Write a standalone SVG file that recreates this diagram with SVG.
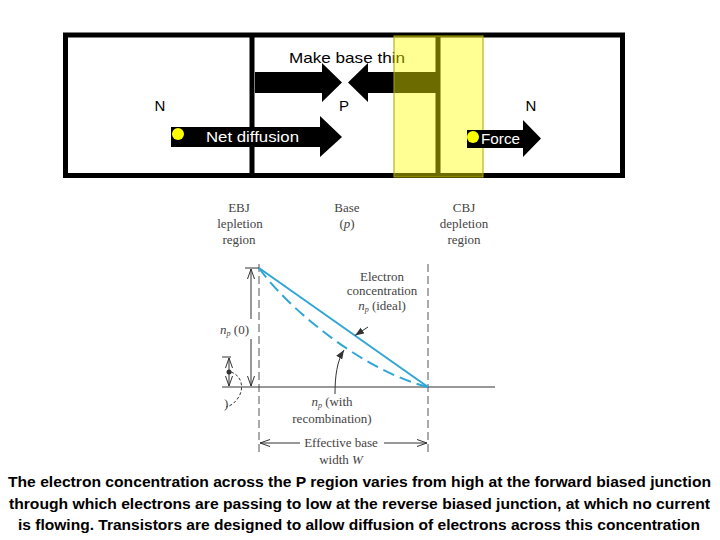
<svg xmlns="http://www.w3.org/2000/svg" width="720" height="540" viewBox="0 0 720 540">
<style>
.lbl{font-family:"Liberation Sans",Arial,sans-serif;font-size:15px;fill:#000}
.wlbl{font-family:"Liberation Sans",Arial,sans-serif;font-size:14px;fill:#fff}
.cap{font-family:"Liberation Sans",Arial,sans-serif;font-size:15px;font-weight:bold;fill:#000}
.g{font-family:"Liberation Serif","Times New Roman",serif;font-size:13px;fill:#444}
.thin{stroke:#333;stroke-width:1;fill:none}
.dash{stroke:#555;stroke-width:1;stroke-dasharray:8,4;fill:none}
.blue{stroke:#2fa6d6;stroke-width:2;fill:none}
</style>
<defs>
<marker id="ah" markerUnits="userSpaceOnUse" markerWidth="12" markerHeight="8" refX="10" refY="4" orient="auto-start-reverse">
<path d="M0,0.5 L10,4 L0,7.5" fill="none" stroke="#333" stroke-width="1"/>
</marker>
<marker id="af" markerUnits="userSpaceOnUse" markerWidth="10" markerHeight="8" refX="9" refY="4" orient="auto">
<path d="M0,0.5 L9,4 L0,7.5 Z" fill="#333"/>
</marker>
</defs>
<rect width="720" height="540" fill="#fff"/>

<g id="device">
<rect x="65.5" y="35" width="557" height="140.5" fill="#fff" stroke="#000" stroke-width="5"/>
<line x1="252" y1="37" x2="252" y2="173" stroke="#000" stroke-width="5"/>
<line x1="438" y1="37" x2="438" y2="173" stroke="#000" stroke-width="5"/>
</g>

<g id="make-base-thin">
<polygon points="255,72 322,72 322,63 342,82.5 322,102 322,93 255,93" fill="#000"/>
<polygon points="437,72 368,72 368,63 348,82.5 368,102 368,93 437,93" fill="#000"/>
<text class="lbl" x="289" y="63" textLength="116" lengthAdjust="spacingAndGlyphs">Make base thin</text>
</g>

<g id="regions">
<text class="lbl" x="160" y="111" text-anchor="middle">N</text>
<text class="lbl" x="344" y="111" text-anchor="middle">P</text>
<text class="lbl" x="531" y="111" text-anchor="middle">N</text>
</g>

<g id="net-diffusion">
<polygon points="171,127 320,127 320,116 342,137 320,157 320,147 171,147" fill="#000"/>
<circle cx="178" cy="134" r="6" fill="#ffff00"/>
<text class="wlbl" x="206" y="142" textLength="93" lengthAdjust="spacingAndGlyphs">Net diffusion</text>
</g>

<g id="depletion-highlight">
<rect x="394" y="36" width="89" height="141" fill="#ffff00" fill-opacity="0.42" stroke="#a6a600" stroke-width="1"/>
</g>

<g id="force">
<polygon points="467,130 523,130 523,120 541,138.5 523,157 523,148 467,148" fill="#000"/>
<circle cx="473" cy="137" r="6" fill="#ffff00"/>
<text class="wlbl" x="481" y="144" textLength="39" lengthAdjust="spacingAndGlyphs">Force</text>
</g>

<g id="graph-labels">
<text class="g" x="239" y="212" text-anchor="middle">EBJ</text>
<text class="g" x="240" y="228" text-anchor="middle">lepletion</text>
<text class="g" x="239" y="244" text-anchor="middle">region</text>
<text class="g" x="347" y="212" text-anchor="middle">Base</text>
<text class="g" x="347" y="228" text-anchor="middle">(<tspan font-style="italic">p</tspan>)</text>
<text class="g" x="464" y="212" text-anchor="middle">CBJ</text>
<text class="g" x="464" y="228" text-anchor="middle">depletion</text>
<text class="g" x="464" y="244" text-anchor="middle">region</text>
</g>

<g id="axes">
<line class="dash" x1="259" y1="264" x2="259" y2="453"/>
<line class="dash" x1="428" y1="264" x2="428" y2="453"/>
<line class="thin" x1="222" y1="387" x2="495" y2="387"/>
</g>

<g id="curves">
<line class="blue" x1="259" y1="268" x2="428" y2="387"/>
<path class="blue" d="M259,268 C285,305 360,370 428,387" stroke-dasharray="12,6"/>
</g>

<g id="connectors">
<line class="thin" x1="245" y1="268" x2="259" y2="268"/>
<line class="thin" x1="251" y1="319" x2="251" y2="269" marker-end="url(#ah)"/>
<line class="thin" x1="251" y1="339" x2="251" y2="386" marker-end="url(#ah)"/>
<line class="thin" x1="222" y1="357" x2="231" y2="357"/>
<line class="thin" x1="229" y1="372" x2="229" y2="358" marker-end="url(#ah)"/>
<line class="thin" x1="229" y1="372" x2="229" y2="386" marker-end="url(#ah)"/>
<circle cx="229" cy="372" r="2.5" fill="#333"/>
<path class="thin" d="M231,372 C243,376 244,390 238,398 C234,404 230,406 226,407" stroke-dasharray="3,2"/>
<line class="thin" x1="368" y1="327" x2="355" y2="335.5" marker-end="url(#af)"/>
<path class="thin" d="M335,394 C335,376 337,361 344,350" marker-end="url(#af)"/>
<line class="thin" x1="300" y1="443" x2="260" y2="443" marker-end="url(#ah)"/>
<line class="thin" x1="384" y1="443" x2="427" y2="443" marker-end="url(#ah)"/>
</g>

<g id="graph-annotations">
<text class="g" x="249" y="334" text-anchor="end"><tspan font-style="italic">n</tspan><tspan font-size="8" dy="2" font-style="italic">p</tspan><tspan dy="-2"> (0)</tspan></text>
<text class="g" x="224" y="408" font-size="10">)</text>
<text class="g" x="382" y="281" text-anchor="middle">Electron</text>
<text class="g" x="382" y="295" text-anchor="middle">concentration</text>
<text class="g" x="382" y="310" text-anchor="middle"><tspan font-style="italic">n</tspan><tspan font-size="8" dy="2" font-style="italic">p</tspan><tspan dy="-2"> (ideal)</tspan></text>
<text class="g" x="332" y="406" text-anchor="middle"><tspan font-style="italic">n</tspan><tspan font-size="8" dy="2" font-style="italic">p</tspan><tspan dy="-2"> (with</tspan></text>
<text class="g" x="332" y="423" text-anchor="middle">recombination)</text>
<text class="g" x="341" y="447" text-anchor="middle">Effective base</text>
<text class="g" x="341" y="464" text-anchor="middle">width <tspan font-style="italic">W</tspan></text>
</g>

<g id="caption">
<text class="cap" x="359.5" y="487" text-anchor="middle" textLength="703" lengthAdjust="spacingAndGlyphs">The electron concentration across the P region varies from high at the forward biased junction</text>
<text class="cap" x="359.5" y="509" text-anchor="middle" textLength="701" lengthAdjust="spacingAndGlyphs">through which electrons are passing to low at the reverse biased junction, at which no current</text>
<text class="cap" x="359" y="530" text-anchor="middle" textLength="682" lengthAdjust="spacingAndGlyphs">is flowing. Transistors are designed to allow diffusion of electrons across this concentration</text>
</g>
</svg>
